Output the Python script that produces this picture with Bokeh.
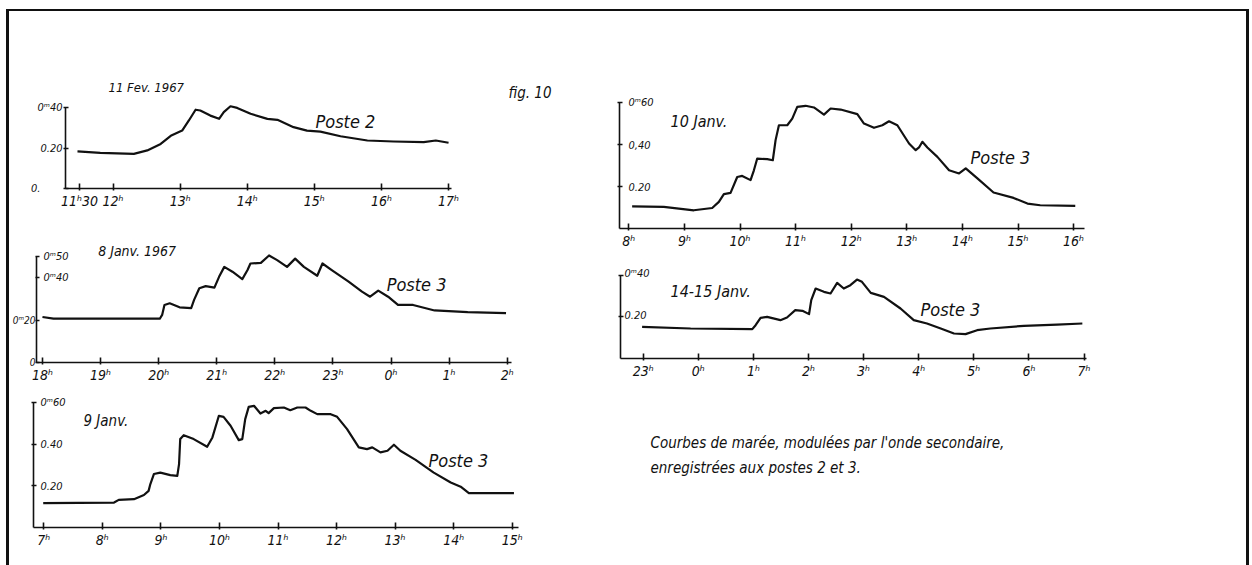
from bokeh.plotting import figure
from bokeh.layouts import row, column
from bokeh.models import Range1d, FixedTicker, Label
from bokeh.embed import file_html
from bokeh.resources import INLINE

FONT = "DejaVu Sans Condensed, DejaVu Sans"

# ---------------- data (hours, metres) ----------------
# 11 Fev. 1967 - Poste 2
P1_T = [11.47, 11.81, 12.31, 12.51, 12.71, 12.86, 13.03, 13.13, 13.23, 13.30, 13.45, 13.58, 13.65, 13.75,
        13.85, 14.05, 14.30, 14.45, 14.69, 14.89, 15.09, 15.39, 15.79, 16.18, 16.63, 16.81, 17.0]
P1_V = [0.183, 0.176, 0.171, 0.188, 0.22, 0.26, 0.286, 0.336, 0.389, 0.385, 0.36, 0.344, 0.377, 0.406,
        0.398, 0.369, 0.344, 0.339, 0.303, 0.286, 0.281, 0.258, 0.237, 0.232, 0.229, 0.237, 0.226]
P1_XTICKS = [11.5, 12, 13, 14, 15, 16, 17]
P1_XLABELS = ["11ʰ30", "12ʰ", "13ʰ", "14ʰ", "15ʰ", "16ʰ", "17ʰ"]
P1_YTICKS = [0, 0.2, 0.4]
P1_YLABELS = ["0.\u00a0\u00a0\u00a0\u00a0\u00a0\u00a0\u00a0", "0.20", "0ᵐ40"]

# 8 Janv. 1967 - Poste 3 (hours after midnight of the 8th, >24 = next day)
P2_T = [18.0, 18.19, 19.04, 20.02, 20.06, 20.10, 20.19, 20.36, 20.56, 20.61, 20.70, 20.81, 20.96, 21.04,
        21.13, 21.27, 21.44, 21.53, 21.58, 21.76, 21.90, 22.04, 22.21, 22.35, 22.50, 22.73, 22.82, 22.98,
        23.27, 23.50, 23.64, 23.78, 23.95, 24.12, 24.38, 24.75, 25.32, 25.98]
P2_V = [0.215, 0.207, 0.207, 0.207, 0.225, 0.272, 0.280, 0.261, 0.257, 0.296, 0.351, 0.361, 0.354, 0.405,
        0.452, 0.429, 0.394, 0.437, 0.468, 0.471, 0.506, 0.484, 0.452, 0.491, 0.452, 0.410, 0.468, 0.437,
        0.382, 0.335, 0.311, 0.340, 0.311, 0.272, 0.272, 0.246, 0.238, 0.233]
P2_XTICKS = [18, 19, 20, 21, 22, 23, 24, 25, 26]
P2_XLABELS = ["18ʰ", "19ʰ", "20ʰ", "21ʰ", "22ʰ", "23ʰ", "0ʰ", "1ʰ", "2ʰ"]
P2_YTICKS = [0, 0.2, 0.4, 0.5]
P2_YLABELS = ["0", "0ᵐ20", "0ᵐ40", "0ᵐ50"]

# 9 Janv. - Poste 3
P3_T = [6.99, 8.20, 8.28, 8.54, 8.71, 8.79, 8.82, 8.88, 8.99, 9.16, 9.28, 9.31, 9.33, 9.39, 9.56, 9.79,
        9.88, 9.99, 10.07, 10.19, 10.33, 10.39, 10.44, 10.50, 10.59, 10.70, 10.79, 10.84, 10.93, 11.10,
        11.21, 11.33, 11.47, 11.56, 11.67, 11.90, 12.01, 12.18, 12.38, 12.52, 12.61, 12.75, 12.87, 12.98,
        13.09, 13.35, 13.66, 13.95, 14.12, 14.26, 14.57, 15.03]
P3_V = [0.117, 0.120, 0.133, 0.136, 0.156, 0.176, 0.209, 0.257, 0.264, 0.252, 0.248, 0.305, 0.425, 0.444,
        0.425, 0.388, 0.433, 0.537, 0.532, 0.489, 0.420, 0.425, 0.521, 0.580, 0.585, 0.548, 0.561, 0.550,
        0.574, 0.577, 0.564, 0.577, 0.577, 0.561, 0.545, 0.545, 0.532, 0.473, 0.385, 0.377, 0.385, 0.361,
        0.369, 0.398, 0.369, 0.325, 0.264, 0.216, 0.196, 0.165, 0.165, 0.165]
P3_XTICKS = [7, 8, 9, 10, 11, 12, 13, 14, 15]
P3_XLABELS = ["7ʰ", "8ʰ", "9ʰ", "10ʰ", "11ʰ", "12ʰ", "13ʰ", "14ʰ", "15ʰ"]
P3_YTICKS = [0.2, 0.4, 0.6]
P3_YLABELS = ["0.20", "0.40", "0ᵐ60"]

# 10 Janv. - Poste 3
P4_T = [8.06, 8.63, 9.17, 9.50, 9.62, 9.71, 9.83, 9.95, 10.04, 10.19, 10.25, 10.31, 10.49, 10.59, 10.64,
        10.70, 10.85, 10.94, 11.03, 11.18, 11.33, 11.51, 11.63, 11.81, 12.11, 12.23, 12.41, 12.56, 12.68,
        12.83, 13.04, 13.16, 13.22, 13.28, 13.37, 13.55, 13.76, 13.94, 14.06, 14.27, 14.56, 14.92, 15.17,
        15.40, 16.03]
P4_V = [0.106, 0.103, 0.087, 0.098, 0.127, 0.164, 0.170, 0.246, 0.251, 0.231, 0.278, 0.334, 0.331, 0.326,
        0.422, 0.493, 0.493, 0.525, 0.581, 0.586, 0.578, 0.544, 0.573, 0.568, 0.546, 0.501, 0.481, 0.493,
        0.512, 0.493, 0.406, 0.374, 0.387, 0.414, 0.387, 0.342, 0.278, 0.263, 0.287, 0.239, 0.172, 0.146,
        0.119, 0.111, 0.108]
P4_XTICKS = [8, 9, 10, 11, 12, 13, 14, 15, 16]
P4_XLABELS = ["8ʰ", "9ʰ", "10ʰ", "11ʰ", "12ʰ", "13ʰ", "14ʰ", "15ʰ", "16ʰ"]
P4_YTICKS = [0.2, 0.4, 0.6]
P4_YLABELS = ["0.20", "0,40", "0ᵐ60"]

# 14-15 Janv. - Poste 3 (hours after midnight of the 15th, -1 = 23h)
P5_T = [-1.02, -0.14, 0.98, 1.04, 1.13, 1.25, 1.49, 1.61, 1.76, 1.89, 2.01, 2.05, 2.13, 2.28, 2.40, 2.52,
        2.64, 2.76, 2.88, 2.97, 3.13, 3.37, 3.67, 3.91, 4.15, 4.40, 4.64, 4.85, 5.06, 5.30, 5.91, 6.51, 6.97]
P5_V = [0.152, 0.144, 0.141, 0.160, 0.195, 0.200, 0.184, 0.197, 0.232, 0.229, 0.213, 0.280, 0.336, 0.320,
        0.312, 0.363, 0.336, 0.352, 0.379, 0.368, 0.315, 0.296, 0.240, 0.184, 0.168, 0.144, 0.120, 0.117,
        0.136, 0.144, 0.157, 0.163, 0.168]
P5_XTICKS = [-1, 0, 1, 2, 3, 4, 5, 6, 7]
P5_XLABELS = ["23ʰ", "0ʰ", "1ʰ", "2ʰ", "3ʰ", "4ʰ", "5ʰ", "6ʰ", "7ʰ"]
P5_YTICKS = [0.2, 0.4]
P5_YLABELS = ["0.20", "0ᵐ40"]

CAPTION = ["Courbes de marée, modulées par l'onde secondaire,",
           "enregistrées aux postes 2 et 3."]


def panel(box, ax, ay, h_ref, x_ref, sx, sy, t, v, xticks, xlabels, x_bound_end,
          yticks, ylabels, y_left, y_bound_end, ylab_size="11px", ylab_standoff=1, ytick_out=2):
    """y_left: set of tick values whose label is drawn by the axis (left side)."""
    bx0, by0, bx1, by1 = box
    xs = h_ref - (x_ref - ax) / sx
    xe = xs + (bx1 - ax) / sx
    ye = (ay - by0) / sy
    p = figure(width=bx1 - bx0, height=by1 - by0,
               x_range=Range1d(xs, xe), y_range=Range1d(0, ye),
               min_border_left=ax - bx0, min_border_right=0, min_border_top=0,
               min_border_bottom=by1 - ay, frame_align=False,
               toolbar_location=None, output_backend="svg",
               outline_line_color=None, background_fill_color="white",
               border_fill_color="white")
    p.xgrid.visible = False
    p.ygrid.visible = False
    xa = p.xaxis[0]
    xa.ticker = FixedTicker(ticks=xticks)
    xa.major_label_overrides = {k: s for k, s in zip(xticks, xlabels)}
    xa.bounds = (xs, x_bound_end)
    xa.axis_line_width = 1.6
    xa.axis_line_color = "#111111"
    xa.major_tick_line_width = 1.6
    xa.major_tick_line_color = "#111111"
    xa.major_tick_in = 5
    xa.major_tick_out = 2
    xa.minor_tick_line_color = None
    xa.major_label_standoff = 2
    xa.major_label_text_font = FONT
    xa.major_label_text_font_style = "italic"
    xa.major_label_text_font_size = "14px"
    xa.major_label_text_color = "#111111"
    ya = p.yaxis[0]
    ya.ticker = FixedTicker(ticks=yticks)
    ya.major_label_overrides = {k: (s if k in y_left else "") for k, s in zip(yticks, ylabels)}
    ya.bounds = (0, y_bound_end)
    ya.axis_line_width = 1.6
    ya.axis_line_color = "#111111"
    ya.major_tick_line_width = 1.4
    ya.major_tick_line_color = "#111111"
    ya.major_tick_in = 3
    ya.major_tick_out = ytick_out
    ya.minor_tick_line_color = None
    ya.major_label_standoff = ylab_standoff
    ya.major_label_text_font = FONT
    ya.major_label_text_font_style = "italic"
    ya.major_label_text_font_size = ylab_size
    ya.major_label_text_color = "#111111"
    p.line(t, v, line_width=2.2, line_color="#111111", line_join="round")

    def to_data(xp, yp):
        return xs + (xp - ax) / sx, (ay - yp) / sy
    return p, to_data


def lab(p, to_data, xp, yp, text, size, align="left"):
    x, y = to_data(xp, yp)
    p.add_layout(Label(x=x, y=y, text=text, text_font=FONT, text_font_style="italic",
                       text_font_size=size, text_color="#111111", text_align=align,
                       text_baseline="middle"))


# ---------------- panels ----------------
p1, d1 = panel((9, 11, 600, 215), 65, 188, 11.5, 79, 67.1, 202.5, P1_T, P1_V,
               P1_XTICKS, P1_XLABELS, 17.05, P1_YTICKS, P1_YLABELS, set(P1_YTICKS), 0.4)
lab(p1, d1, 108, 87, "11 Fev. 1967", "13px")
lab(p1, d1, 315, 121, "Poste 2", "18px")
lab(p1, d1, 508, 92, "fig. 10", "15px")

p2, d2 = panel((9, 215, 600, 385), 33, 363, 18, 39, 58.4, 213, P2_T, P2_V,
               P2_XTICKS, P2_XLABELS, 26.07, P2_YTICKS, P2_YLABELS, {0, 0.2}, 0.5,
               ylab_size="10px", ylab_standoff=0, ytick_out=1)
lab(p2, d2, 95, 251, "8 Janv. 1967", "14px")
lab(p2, d2, 385, 284, "Poste 3", "18px")
for yv, s in zip(P2_YTICKS, P2_YLABELS):
    if yv >= 0.4:
        lab(p2, d2, 40, 363 - yv * 213, s, "11px", "left")

p3, d3 = panel((9, 385, 600, 565), 33, 527, 7, 43.3, 58.55, 208, P3_T, P3_V,
               P3_XTICKS, P3_XLABELS, 15.1, P3_YTICKS, P3_YLABELS, set(), 0.6)
lab(p3, d3, 83, 420, "9 Janv.", "15px")
lab(p3, d3, 428, 460, "Poste 3", "18px")
for yv, s in zip(P3_YTICKS, P3_YLABELS):
    lab(p3, d3, 40, 527 - yv * 208, s, "11px", "left")

p4, d4 = panel((600, 11, 1246, 255), 619, 228, 8, 628.3, 55.6, 209.4, P4_T, P4_V,
               P4_XTICKS, P4_XLABELS, 16.2, P4_YTICKS, P4_YLABELS, set(), 0.6)
lab(p4, d4, 670, 121, "10 Janv.", "16px")
lab(p4, d4, 970, 157, "Poste 3", "18px")
for yv, s in zip(P4_YTICKS, P4_YLABELS):
    lab(p4, d4, 628, 228 - yv * 209.4, s, "11px", "left")

p5, d5 = panel((600, 255, 1246, 390), 620, 358, -1, 642.7, 55.1, 208.3, P5_T, P5_V,
               P5_XTICKS, P5_XLABELS, 7.05, P5_YTICKS, P5_YLABELS, set(), 0.4)
lab(p5, d5, 670, 291, "14-15 Janv.", "16px")
lab(p5, d5, 920, 309, "Poste 3", "18px")
for yv, s in zip(P5_YTICKS, P5_YLABELS):
    lab(p5, d5, 624, 358 - yv * 208.3 - 2, s, "11px", "left")

# caption panel (page-pixel coordinates)
p6 = figure(width=646, height=175, x_range=Range1d(600, 1246), y_range=Range1d(565, 390),
            x_axis_type=None, y_axis_type=None, frame_align=False,
            min_border=0, toolbar_location=None, output_backend="svg",
            outline_line_color=None, border_fill_color="white")
p6.grid.visible = False
for i, line in enumerate(CAPTION):
    p6.add_layout(Label(x=650, y=442 + i * 25, text=line, text_font=FONT,
                        text_font_style="italic", text_font_size="15px",
                        text_color="#111111", text_baseline="middle"))

left = column(p1, p2, p3, spacing=0)
right = column(p4, p5, p6, spacing=0)
root = row(left, right, spacing=0,
           styles={"border-top": "2px solid #111", "border-left": "3px solid #111",
                   "border-right": "3px solid #111", "margin-left": "6px", "margin-top": "9px"})

open("out.html", "w").write(file_html(root, INLINE))
